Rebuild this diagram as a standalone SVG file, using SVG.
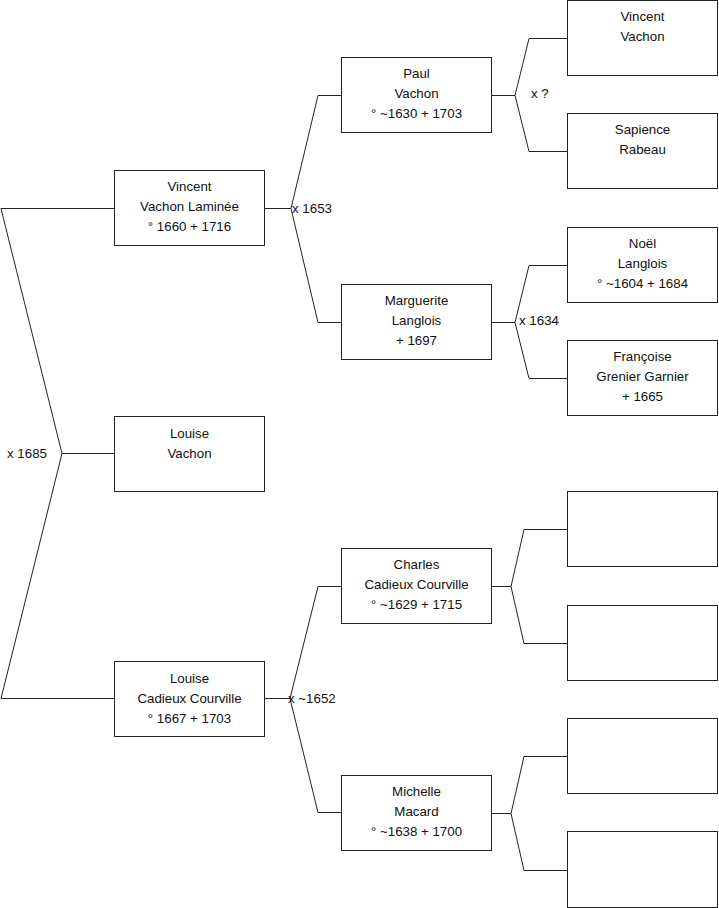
<svg xmlns="http://www.w3.org/2000/svg" width="719" height="908" viewBox="0 0 719 908">
<style>
.box{fill:#fff;stroke:#222;stroke-width:1}
.ln{fill:none;stroke:#222;stroke-width:1}
text{font-family:"Liberation Sans",Arial,sans-serif;font-size:13.3px;fill:#111}
.c{text-anchor:middle}
</style>
<rect width="719" height="908" fill="#fff"/>
<g id="connectors">
<polyline class="ln" points="114,208.5 1,208.5 62,453.5 1,698.5 114,698.5"/>
<line class="ln" x1="62" y1="453.5" x2="114" y2="453.5"/>
<polyline class="ln" points="341,95.5 318,95.5 291,208.5 318,322.5 341,322.5"/>
<line class="ln" x1="265" y1="208.5" x2="291" y2="208.5"/>
<polyline class="ln" points="341,586.5 318,586.5 290,698.5 318,812.5 341,812.5"/>
<line class="ln" x1="265" y1="698.5" x2="290" y2="698.5"/>
<polyline class="ln" points="567,38.5 529,38.5 515,95.5 529,151.5 567,151.5"/>
<line class="ln" x1="492" y1="95.5" x2="515" y2="95.5"/>
<polyline class="ln" points="567,265.5 529,265.5 515,322.5 529,378.5 567,378.5"/>
<line class="ln" x1="492" y1="322.5" x2="515" y2="322.5"/>
<polyline class="ln" points="567,529.5 524,529.5 511,586.5 524,643.5 567,643.5"/>
<line class="ln" x1="492" y1="586.5" x2="511" y2="586.5"/>
<polyline class="ln" points="567,756.5 524,756.5 511,813.5 524,870.5 567,870.5"/>
<line class="ln" x1="492" y1="813.5" x2="511" y2="813.5"/>
<text x="7" y="458">x 1685</text>
<text x="292" y="213">x 1653</text>
<text x="531" y="98">x ?</text>
<text x="519" y="325">x 1634</text>
<text x="288" y="703">x ~1652</text>
</g>
<g id="n_vincent_laminee">
<rect class="box" x="114.5" y="170.5" width="150" height="75"/>
<text class="c" x="189.5" y="191">Vincent</text>
<text class="c" x="189.5" y="211">Vachon Laminée</text>
<text class="c" x="189.5" y="231">° 1660 + 1716</text>
</g>
<g id="n_louise_vachon">
<rect class="box" x="114.5" y="416.5" width="150" height="75"/>
<text class="c" x="189.5" y="438">Louise</text>
<text class="c" x="189.5" y="458">Vachon</text>
</g>
<g id="n_louise_cadieux">
<rect class="box" x="114.5" y="661.5" width="150" height="75"/>
<text class="c" x="189.5" y="683">Louise</text>
<text class="c" x="189.5" y="703">Cadieux Courville</text>
<text class="c" x="189.5" y="723">° 1667 + 1703</text>
</g>
<g id="n_paul">
<rect class="box" x="341.5" y="57.5" width="150" height="75"/>
<text class="c" x="416.5" y="78">Paul</text>
<text class="c" x="416.5" y="98">Vachon</text>
<text class="c" x="416.5" y="118">° ~1630 + 1703</text>
</g>
<g id="n_marguerite">
<rect class="box" x="341.5" y="284.5" width="150" height="75"/>
<text class="c" x="416.5" y="305">Marguerite</text>
<text class="c" x="416.5" y="325">Langlois</text>
<text class="c" x="416.5" y="345">+ 1697</text>
</g>
<g id="n_charles">
<rect class="box" x="341.5" y="548.5" width="150" height="75"/>
<text class="c" x="416.5" y="569">Charles</text>
<text class="c" x="416.5" y="589">Cadieux Courville</text>
<text class="c" x="416.5" y="609">° ~1629 + 1715</text>
</g>
<g id="n_michelle">
<rect class="box" x="341.5" y="775.5" width="150" height="75"/>
<text class="c" x="416.5" y="796">Michelle</text>
<text class="c" x="416.5" y="816">Macard</text>
<text class="c" x="416.5" y="836">° ~1638 + 1700</text>
</g>
<g id="n_vincent_vachon">
<rect class="box" x="567.5" y="0.5" width="150" height="75"/>
<text class="c" x="642.5" y="21">Vincent</text>
<text class="c" x="642.5" y="41">Vachon</text>
</g>
<g id="n_sapience">
<rect class="box" x="567.5" y="113.5" width="150" height="75"/>
<text class="c" x="642.5" y="134">Sapience</text>
<text class="c" x="642.5" y="154">Rabeau</text>
</g>
<g id="n_noel">
<rect class="box" x="567.5" y="227.5" width="150" height="75"/>
<text class="c" x="642.5" y="248">Noël</text>
<text class="c" x="642.5" y="268">Langlois</text>
<text class="c" x="642.5" y="288">° ~1604 + 1684</text>
</g>
<g id="n_francoise">
<rect class="box" x="567.5" y="340.5" width="150" height="75"/>
<text class="c" x="642.5" y="361">Françoise</text>
<text class="c" x="642.5" y="381">Grenier Garnier</text>
<text class="c" x="642.5" y="401">+ 1665</text>
</g>
<g id="n_empty1"><rect class="box" x="567.5" y="491.5" width="150" height="75"/></g>
<g id="n_empty2"><rect class="box" x="567.5" y="605.5" width="150" height="75"/></g>
<g id="n_empty3"><rect class="box" x="567.5" y="718.5" width="150" height="75"/></g>
<g id="n_empty4"><rect class="box" x="567.5" y="831.5" width="150" height="76"/></g>
</svg>
